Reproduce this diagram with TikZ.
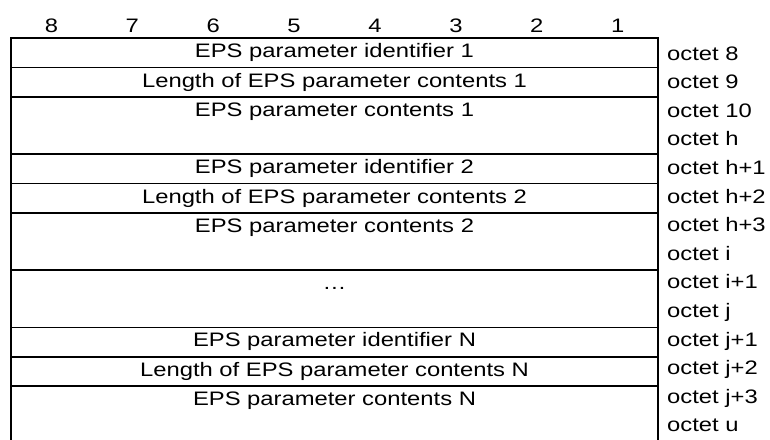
\documentclass[tikz,border=0pt]{standalone}
\usepackage{fontspec}
\setmainfont{Liberation Sans}
\usetikzlibrary{positioning}

\newcommand{\wide}[1]{\scalebox{1.22}[1]{#1}}

\tikzset{
  field/.style={draw, line width=1.7pt, outer sep=0pt, inner ysep=0pt,
    minimum width=647pt, text height=19.5pt, text depth=9.8pt,
    font=\fontsize{19.5}{23}\selectfont},
  field2/.style={field, text depth=37.8pt},
  bitno/.style={anchor=base, inner sep=0pt, font=\fontsize{19.5}{23}\selectfont},
  octet/.style={anchor=base west, inner sep=0pt, font=\fontsize{19.5}{23}\selectfont}
}

\begin{document}
\begin{tikzpicture}[x=1pt, y=1pt]
    \useasboundingbox (0,0) rectangle (770,-439);
    \clip (0,0) rectangle (770,-439);

    % Bit numbers
    \foreach \b in {1,...,8}
        \node[bitno] (bit\b) at ({51.4+80.9*(8-\b)},-32.7) {\wide{\b}};

    % Fields
    \node[field, anchor=north west] (id1) at (11,-38.3) {\wide{EPS parameter identifier 1}};
    \node[field, below=0pt of id1] (len1) {\wide{Length of EPS parameter contents 1}};
    \node[field2, below=0pt of len1] (cont1) {\wide{EPS parameter contents 1}};
    \node[field, below=0pt of cont1] (id2) {\wide{EPS parameter identifier 2}};
    \node[field, below=0pt of id2] (len2) {\wide{Length of EPS parameter contents 2}};
    \node[field2, below=0pt of len2] (cont2) {\wide{EPS parameter contents 2}};
    \node[field2, below=0pt of cont2] (dots) {\wide{…}};
    \node[field, below=0pt of dots] (idN) {\wide{EPS parameter identifier N}};
    \node[field, below=0pt of idN] (lenN) {\wide{Length of EPS parameter contents N}};
    \node[field2, below=0pt of lenN] (contN) {\wide{EPS parameter contents N}};

    % Octet labels
    \foreach \o [count=\k from 0] in {8,9,10,h,h+1,h+2,h+3,i,i+1,j,j+1,j+2,j+3,u}
        \node[octet] (oct\k) at (667,{-60-28.6*\k}) {\wide{octet \o}};
\end{tikzpicture}
\end{document}
